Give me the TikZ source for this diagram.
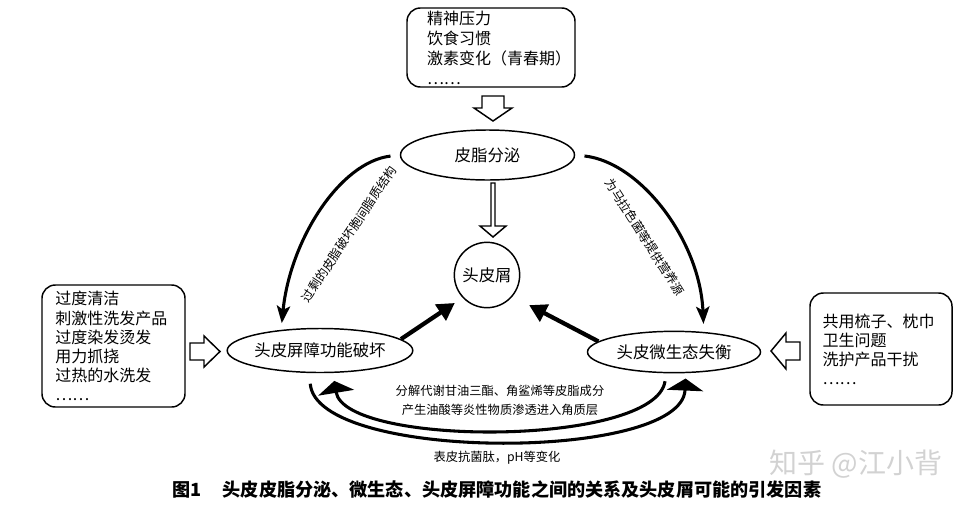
\documentclass[tikz,border=0pt]{standalone}
\usepackage{fontspec}
\setmainfont{Noto Sans CJK SC}
\usetikzlibrary{arrows.meta,shapes.geometric}
\begin{document}
\begin{tikzpicture}[x=0.75pt,y=-0.75pt,
  every node/.style={inner sep=0pt},
  box/.style={draw,line width=1.1pt,rounded corners=10pt,align=left,
    font=\fontsize{12}{14.3}\selectfont},
  ell/.style={draw,ellipse,line width=1.1pt,font=\fontsize{12.3}{14}\selectfont},
  blockarrow/.style={draw,line width=1.1pt,fill=white,line join=miter},
  boldarrow/.style={line width=3.2pt,-{Triangle[length=13pt,width=14pt]}},
  curvearrow/.style={line width=2.3pt,-{Stealth[length=13pt,width=10pt,inset=3pt]}},
  arcarrow/.style={line width=2.3pt,-{Triangle[length=9pt,width=27pt]}},
  lab/.style={font=\fontsize{9.2}{11}\selectfont},
]
\useasboundingbox (0,0) rectangle (973,507);

% boxes of causes
\node[box,minimum width=126pt,minimum height=59.25pt,inner xsep=15pt,text width=96pt,
  font=\fontsize{12}{15}\selectfont]
  (top) at (491,47.5) {精神压力\\饮食习惯\\激素变化（青春期）\\……};
\node[box,minimum width=107.25pt,minimum height=91.5pt,inner xsep=10pt,text width=87.25pt]
  (left) at (113.5,346) {过度清洁\\刺激性洗发产品\\过度染发烫发\\用力抓挠\\过热的水洗发\\……};
\node[box,minimum width=106.5pt,minimum height=84pt,inner xsep=9.5pt,text width=87.5pt]
  (right) at (881,349) {共用梳子、枕巾\\卫生问题\\洗护产品干扰\\……};

% central nodes
\node[ell,minimum width=130.5pt,minimum height=37.5pt] (seb) at (487.5,155) {皮脂分泌};
\node[ell,minimum width=130.5pt,minimum height=33pt] (bar) at (320,350.5) {头皮屏障功能破坏};
\node[ell,minimum width=129.75pt,minimum height=31pt] (mic) at (674,352) {头皮微生态失衡};
\node[draw,circle,line width=1.1pt,minimum size=49pt,font=\fontsize{12.3}{14}\selectfont]
  (scurf) at (487,275) {头皮屑};

% hollow block arrows
\draw[blockarrow] (482,96) -- (504,96) -- (504,108) -- (512,108) -- (493,121)
  -- (474,108) -- (482,108) -- cycle;
\draw[blockarrow] (491,183) -- (495,183) -- (495,226) -- (506,226) -- (493,237)
  -- (480,226) -- (491,226) -- cycle;
\draw[blockarrow] (190,343) -- (204,343) -- (204,336) -- (220,351.5) -- (204,367)
  -- (204,360) -- (190,360) -- cycle;
\draw[blockarrow] (800,342) -- (786,342) -- (786,333) -- (771,351) -- (786,369)
  -- (786,360) -- (800,360) -- cycle;

% bold arrows to dandruff
\draw[boldarrow,shorten >=7pt] (bar.8) -- (scurf.223);
\draw[boldarrow,shorten >=14pt] (mic.172) -- (scurf.-40);

% side curved arrows
\draw[curvearrow,shorten <=7pt,shorten >=5pt] (seb.west) .. controls (340,162) and (290,240) .. (bar.152);
\draw[curvearrow,shorten <=7pt,shorten >=6pt] (seb.east) .. controls (640,162) and (700,240) .. (mic.34);
\node[lab,rotate=56.5] (labL) at (349,234) {过剩的皮脂破坏胞间脂质结构};
\node[lab,rotate=-57.4] (labR) at (645,237) {为马拉色菌等提供营养源};

% bottom arcs
\draw[arcarrow,shorten <=6pt,shorten >=6pt] (mic.250) .. controls (655,447) and (345,447) .. (bar.-60);
\draw[arcarrow,shorten <=8pt,shorten >=4pt] (bar.245) .. controls (316,462) and (682,462) .. (mic.-61);
\node[lab] (labB1) at (500,391) {分解代谢甘油三酯、角鲨烯等皮脂成分};
\node[lab] (labB2) at (500,410) {产生油酸等炎性物质渗透进入角质层};
\node[lab] (labB3) at (497,458) {表皮抗菌肽，pH等变化};

% watermark and caption
\node[text=gray!35,font=\fontsize{21}{24}\selectfont] (wm) at (856,464) {知乎 @江小背};
\node[anchor=west,font=\bfseries\fontsize{13.6}{16}\selectfont] (cap) at (172,490)
  {图1\hspace{16pt}头皮皮脂分泌、微生态、头皮屏障功能之间的关系及头皮屑可能的引发因素};
\end{tikzpicture}
\end{document}
